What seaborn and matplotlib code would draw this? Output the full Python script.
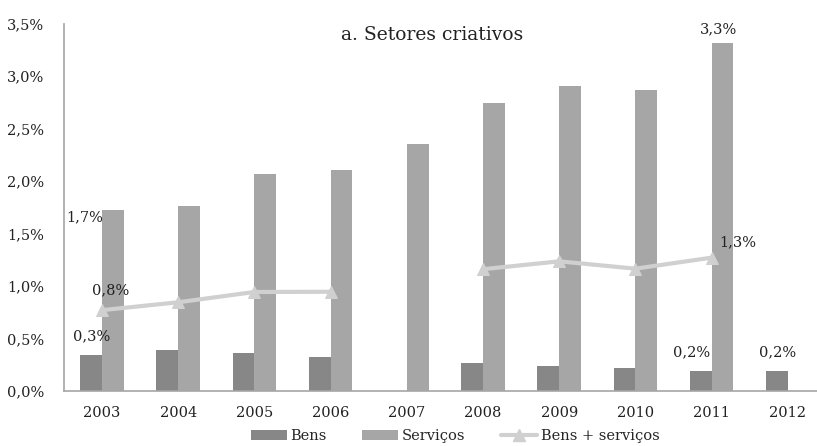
import matplotlib
matplotlib.use("Agg")
import matplotlib.pyplot as plt
from matplotlib.ticker import FuncFormatter, MultipleLocator
from matplotlib.patches import Patch
from matplotlib.lines import Line2D
import seaborn as sns
import pandas as pd
import numpy as np

years = ["2003", "2004", "2005", "2006", "2007", "2008", "2009", "2010", "2011", "2012"]
bens = [0.345, 0.39, 0.365, 0.32, 0.0, 0.265, 0.238, 0.218, 0.193, 0.193]
servicos = [1.72, 1.765, 2.065, 2.105, 2.35, 2.74, 2.905, 2.865, 3.31, 0.0]
bens_servicos = [0.77, 0.845, 0.943, 0.945, np.nan, 1.16, 1.235, 1.165, 1.27, np.nan]
series_names = ["Bens", "Serviços", "Bens + serviços"]
colors = ["#878787", "#a6a6a6", "#d0d0d0"]
title = "a. Setores criativos"

sns.set_theme(style="white")
plt.rcParams["font.family"] = ["DejaVu Serif"]

W, H = 817, 446
fig = plt.figure(figsize=(W / 100, H / 100), dpi=100)
x0, x1 = 63.9, 63.9 + 762
y0, y1 = 391, 23.5
ax = fig.add_axes([x0 / W, 1 - y0 / H, (x1 - x0) / W, (y0 - y1) / H])

df = pd.DataFrame({
    "year": years * 2,
    "value": bens + servicos,
    "serie": [series_names[0]] * len(years) + [series_names[1]] * len(years),
})
sns.barplot(data=df, x="year", y="value", hue="serie", order=years,
            hue_order=series_names[:2], palette=colors[:2],
            width=0.57, gap=0, saturation=1, linewidth=0, ax=ax, legend=False)

# line with a gap in 2007
seg = []
s = 0
for v in bens_servicos:
    if np.isnan(v):
        s += 1
    seg.append(s)
ldf = pd.DataFrame({"pos": np.arange(len(years)), "value": bens_servicos, "seg": seg}).dropna()
sns.lineplot(data=ldf, x="pos", y="value", units="seg", estimator=None,
             color=colors[2], lw=3, marker="^", markersize=9, markeredgecolor=colors[2],
             ax=ax, legend=False)

ax.set_xlim(-0.5, 9.5)
ax.set_ylim(0, 3.5)
ax.yaxis.set_major_locator(MultipleLocator(0.5))
ax.yaxis.set_major_formatter(FuncFormatter(lambda v, p: f"{v:.1f}%".replace(".", ",")))
ax.set_xlabel("")
ax.set_ylabel("")
for sp in ["top", "right"]:
    ax.spines[sp].set_visible(False)
for sp in ["left", "bottom"]:
    ax.spines[sp].set_color("#a6a6a6")
    ax.spines[sp].set_linewidth(1.2)
ax.tick_params(axis="y", length=0, pad=14, labelsize=10.5, colors="#222222")
ax.tick_params(axis="x", length=0, pad=11, labelsize=10.5, colors="#222222")

fs = 10.5
def lab(txt, xi, yv, dx, dy):
    ax.annotate(txt, (xi, yv), xytext=(dx, -dy), textcoords="offset pixels",
                ha="center", va="center", fontsize=fs, color="#222222")

lab("1,7%", 0, servicos[0], -17, 7)
lab("0,3%", -0.14, bens[0], 0, -18)
lab("0,8%", 0, bens_servicos[0], 9, -20)
lab("3,3%", 8.14, servicos[8], -4, -14)
lab("1,3%", 8, bens_servicos[8], 26, -15)
lab("0,2%", 7.86, bens[8], -9, -18)
lab("0,2%", 8.86, bens[9], 0, -18)

ax.text(432 / W, 1 - 35 / H, title, transform=fig.transFigure, ha="center", va="center",
        fontsize=13.5, color="#222222")

handles = [Patch(facecolor=colors[0], edgecolor="none"),
           Patch(facecolor=colors[1], edgecolor="none"),
           Line2D([], [], color=colors[2], lw=3, marker="^", markersize=9)]
fig.legend(handles, series_names, loc="center", bbox_to_anchor=(455 / W, 1 - 436 / H),
           ncol=3, frameon=False, fontsize=10.5, handlelength=2.5, handleheight=0.7,
           columnspacing=2.4, handletextpad=0.25, borderaxespad=0, borderpad=0)

fig.savefig("out.png", dpi=100)
